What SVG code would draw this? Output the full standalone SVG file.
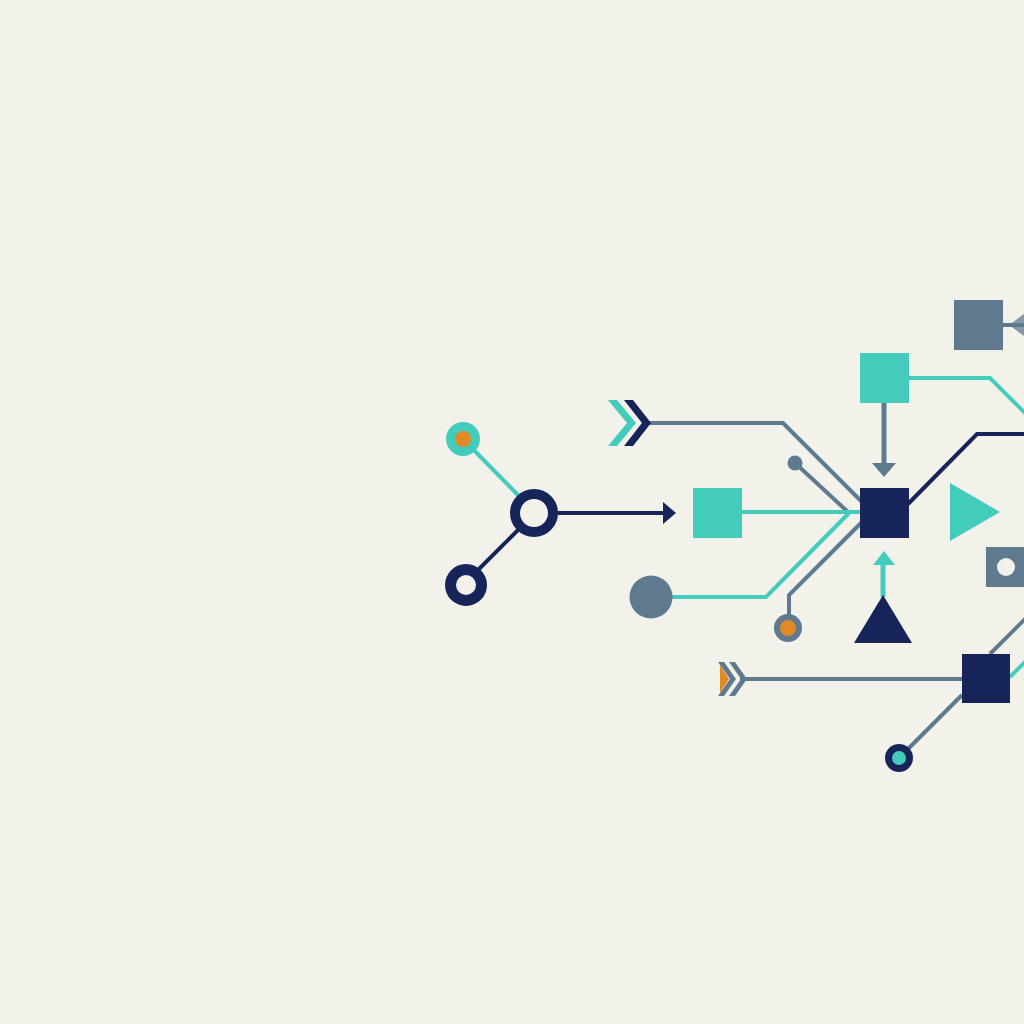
<svg xmlns="http://www.w3.org/2000/svg" width="1024" height="1024" viewBox="0 0 1024 1024">
<style>
.navy{fill:#16245a}
.teal{fill:#43ccbb}
.slate{fill:#5f7a8f}
.orange{fill:#e08a25}
.ln{fill:none;stroke-linejoin:miter;stroke-linecap:butt}
.ln-navy{stroke:#16245a;stroke-width:4}
.ln-teal{stroke:#43ccbb;stroke-width:4}
.ln-slate{stroke:#5f7a8f;stroke-width:4}
</style>
<rect width="1024" height="1024" fill="#f2f1ea"/>
<g id="connectors">
  <polyline class="ln ln-teal" points="463,439 520,497"/>
  <polyline class="ln ln-navy" points="518,530 472,576"/>
  <polyline class="ln ln-navy" points="558,513 665,513"/>
  <polygon class="navy" points="663,502 676,513 663,524"/>
  <polyline class="ln ln-slate" points="648,423 783,423 861,501"/>
  <polyline class="ln ln-slate" points="795,463 848,512"/>
  <polyline class="ln ln-teal" points="742,512 860,512"/>
  <polyline class="ln ln-teal" points="672,597 766,597 849,513"/>
  <polyline class="ln ln-slate" points="861,523 789,595 789,616"/>
  <polyline class="ln" stroke="#5f7a8f" stroke-width="5" points="884,403 884,465"/>
  <polygon class="slate" points="872,463 896,463 884,477"/>
  <polyline class="ln ln-teal" points="909,378 990,378 1026,414"/>
  <polyline class="ln ln-navy" points="908,504 977,434 1026,434"/>
  <polyline class="ln ln-slate" points="1003,325 1024,325"/>
  <polygon class="slate" points="1009,325 1024,314 1024,336" opacity="0.75"/>
  <polyline class="ln" stroke="#43ccbb" stroke-width="5" points="883,597 883,564"/>
  <polygon class="teal" points="873,565 895,565 884,551"/>
  <polyline class="ln ln-slate" points="962,679 740,679"/>
  <polyline class="ln ln-slate" points="908,749 962,695"/>
  <polyline class="ln ln-slate" points="990,654 1026,618"/>
  <polyline class="ln ln-teal" points="1010,677 1026,661"/>
</g>
<g id="node-teal-orange-dot">
  <circle cx="463" cy="439" r="17" class="teal"/>
  <circle cx="463" cy="439" r="8" class="orange"/>
</g>
<g id="node-navy-ring">
  <circle cx="534" cy="513" r="19" fill="#f2f1ea" stroke="#16245a" stroke-width="10"/>
</g>
<g id="node-navy-ring-small">
  <circle cx="466" cy="585" r="15.5" fill="#f2f1ea" stroke="#16245a" stroke-width="11"/>
</g>
<g id="node-chevrons-top">
  <polygon class="teal" points="608,400 617,400 636,423 617,446 608,446 627,423"/>
  <polygon class="navy" points="624,400 633,400 651,423 633,446 624,446 642,423"/>
</g>
<g id="node-slate-dot">
  <circle cx="795" cy="463" r="7.5" class="slate"/>
</g>
<g id="node-teal-square">
  <rect x="693" y="488" width="49" height="50" class="teal"/>
</g>
<g id="node-center-square">
  <rect x="860" y="488" width="49" height="50" class="navy"/>
</g>
<g id="node-slate-circle">
  <circle cx="651" cy="597" r="21.5" class="slate"/>
</g>
<g id="node-slate-orange-dot">
  <circle cx="788" cy="628" r="14" class="slate"/>
  <circle cx="788" cy="628" r="8" class="orange"/>
</g>
<g id="node-teal-square-top">
  <rect x="860" y="353" width="49" height="50" class="teal"/>
</g>
<g id="node-slate-square-top">
  <rect x="954" y="300" width="49" height="50" class="slate"/>
</g>
<g id="node-teal-triangle">
  <polygon class="teal" points="950,483 1000,512 950,541"/>
</g>
<g id="node-slate-square-hole">
  <rect x="986" y="547" width="40" height="40" class="slate"/>
  <circle cx="1006" cy="567" r="9" fill="#f2f1ea"/>
</g>
<g id="node-navy-triangle">
  <polygon class="navy" points="883,595 912,643 854,643"/>
</g>
<g id="node-chevrons-bottom">
  <polygon class="orange" points="720,665 729,679 720,693"/>
  <polygon class="slate" points="718,662 724,662 736,679 724,696 718,696 730,679"/>
  <polygon class="slate" points="729,662 735,662 747,679 735,696 729,696 741,679"/>
</g>
<g id="node-navy-square-bottom">
  <rect x="962" y="654" width="48" height="49" class="navy"/>
</g>
<g id="node-navy-teal-dot">
  <circle cx="899" cy="758" r="14" class="navy"/>
  <circle cx="899" cy="758" r="7" class="teal"/>
</g>
</svg>
